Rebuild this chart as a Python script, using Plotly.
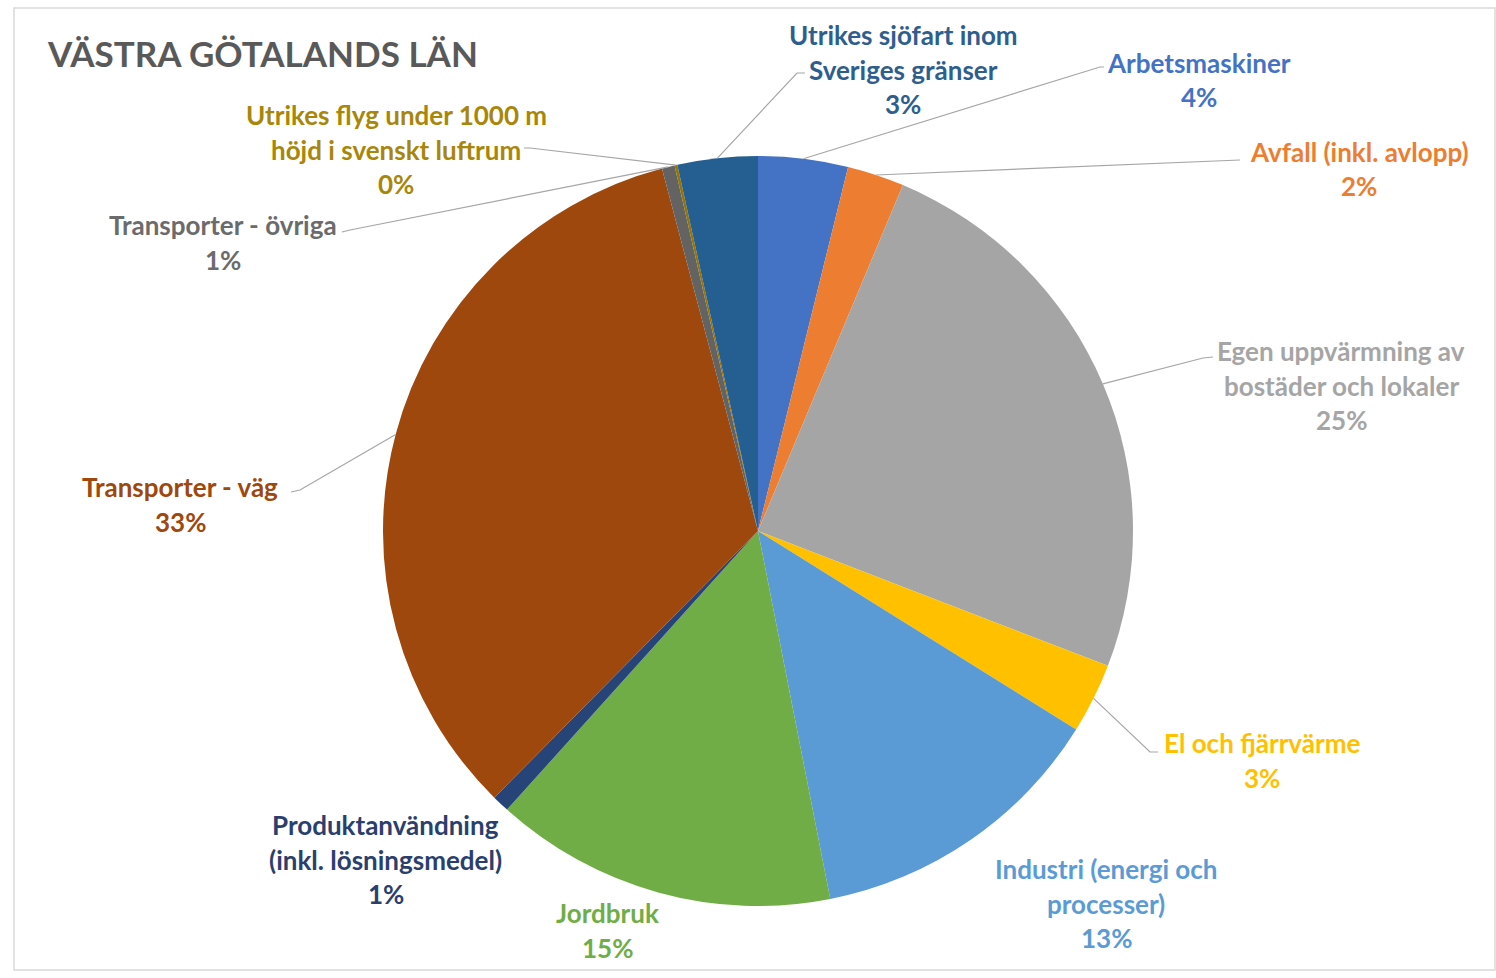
import math
import plotly.graph_objects as go

# Emissions by sector, Västra Götalands län (share of total, %)
sectors = [
    "Arbetsmaskiner",
    "Avfall (inkl. avlopp)",
    "Egen uppvärmning av bostäder och lokaler",
    "El och fjärrvärme",
    "Industri (energi och processer)",
    "Jordbruk",
    "Produktanvändning (inkl. lösningsmedel)",
    "Transporter - väg",
    "Transporter - övriga",
    "Utrikes flyg under 1000 m höjd i svenskt luftrum",
    "Utrikes sjöfart inom Sveriges gränser",
]
shares = [3.86, 2.45, 24.53, 3.02, 13.03, 14.75, 0.74, 33.45, 0.55, 0.12, 3.45]
colors = ["#4472C4", "#ED7D31", "#A5A5A5", "#FFC000", "#5B9BD5", "#70AD47",
          "#264478", "#9E480E", "#636363", "#997300", "#255E91"]
text_colors = ["#4472C4", "#ED7D31", "#A5A5A5", "#FFC000", "#5B9BD5", "#70AD47",
               "#2B3F6E", "#9E480E", "#6B6B6B", "#A8860A", "#2E5E8E"]

# Label text broken into display lines
label_lines = [
    ["Arbetsmaskiner"],
    ["Avfall (inkl. avlopp)"],
    ["Egen uppvärmning av", "bostäder och lokaler"],
    ["El och fjärrvärme"],
    ["Industri (energi och", "processer)"],
    ["Jordbruk"],
    ["Produktanvändning", "(inkl. lösningsmedel)"],
    ["Transporter - väg"],
    ["Transporter - övriga"],
    ["Utrikes flyg under 1000 m", "höjd i svenskt luftrum"],
    ["Utrikes sjöfart inom", "Sveriges gränser"],
]

W, H = 1496, 978
CX, CY, R = 758, 531, 375  # pie centre and radius in pixels

# Label block placement (centre x, first-line y) in pixels
label_pos = [
    (1199, 63), (1359, 152), (1341, 351), (1262, 743), (1106, 869),
    (607, 913), (386, 825), (180, 487), (223, 225), (396, 115), (903, 35),
]
# Where each leader line meets its label (None = no leader line)
leader_end = [
    [(1100, 67), (1104, 67)],
    [(1240, 160)],
    [(1203, 358), (1213, 357)],
    [(1150, 752), (1158, 752)],
    None,
    None,
    None,
    [(300, 490), (291, 492)],
    [(350, 230), (342, 232)],
    [(530, 148), (524, 148)],
    [(797, 73), (805, 73)],
]
LINE_SPACING = 34.5


def px(x):
    return x / W


def py(y):
    return 1 - y / H


fig = go.Figure(go.Pie(
    labels=sectors,
    values=shares,
    sort=False,
    direction="clockwise",
    rotation=0,
    marker=dict(colors=colors, line=dict(width=0)),
    textinfo="none",
    hoverinfo="label+percent",
    showlegend=False,
    domain=dict(x=[px(CX - R), px(CX + R)], y=[py(CY + R), py(CY - R)]),
))

total = sum(shares)
annotations = []
shapes = []
cum = 0.0
for i, v in enumerate(shares):
    mid = (cum + v / 2) / total * 2 * math.pi
    cum += v
    pct = f"{int(v / total * 100 + 0.5)}%"
    lines = label_lines[i] + [pct]
    lx, ly = label_pos[i]
    for j, t in enumerate(lines):
        annotations.append(dict(
            x=px(lx), y=py(ly + j * LINE_SPACING), xref="paper", yref="paper",
            text=t, showarrow=False, xanchor="center", yanchor="middle",
            font=dict(family="Lato", size=26, color=text_colors[i], weight="bold"),
        ))
    if leader_end[i]:
        ex = CX + R * math.sin(mid)
        ey = CY - R * math.cos(mid)
        pts = [(ex, ey)] + leader_end[i]
        path = "M " + " L ".join(f"{px(a):.5f},{py(b):.5f}" for a, b in pts)
        shapes.append(dict(type="path", path=path, xref="paper", yref="paper",
                           line=dict(color="#A6A6A6", width=1.2)))

annotations.append(dict(
    x=px(45), y=py(53), xref="paper", yref="paper", text="VÄSTRA GÖTALANDS LÄN",
    showarrow=False, xanchor="left", yanchor="middle",
    font=dict(family="Lato", size=35, color="#595959", weight="bold"),
))

# Chart-area border
shapes.append(dict(type="rect", xref="paper", yref="paper",
                   x0=px(14), y0=py(970), x1=px(1495), y1=py(8),
                   line=dict(color="#D9D9D9", width=1.5)))

fig.update_layout(
    width=W, height=H,
    margin=dict(l=0, r=0, t=0, b=0),
    paper_bgcolor="white",
    plot_bgcolor="white",
    annotations=annotations,
    shapes=shapes,
)

fig.write_html("out.html")
